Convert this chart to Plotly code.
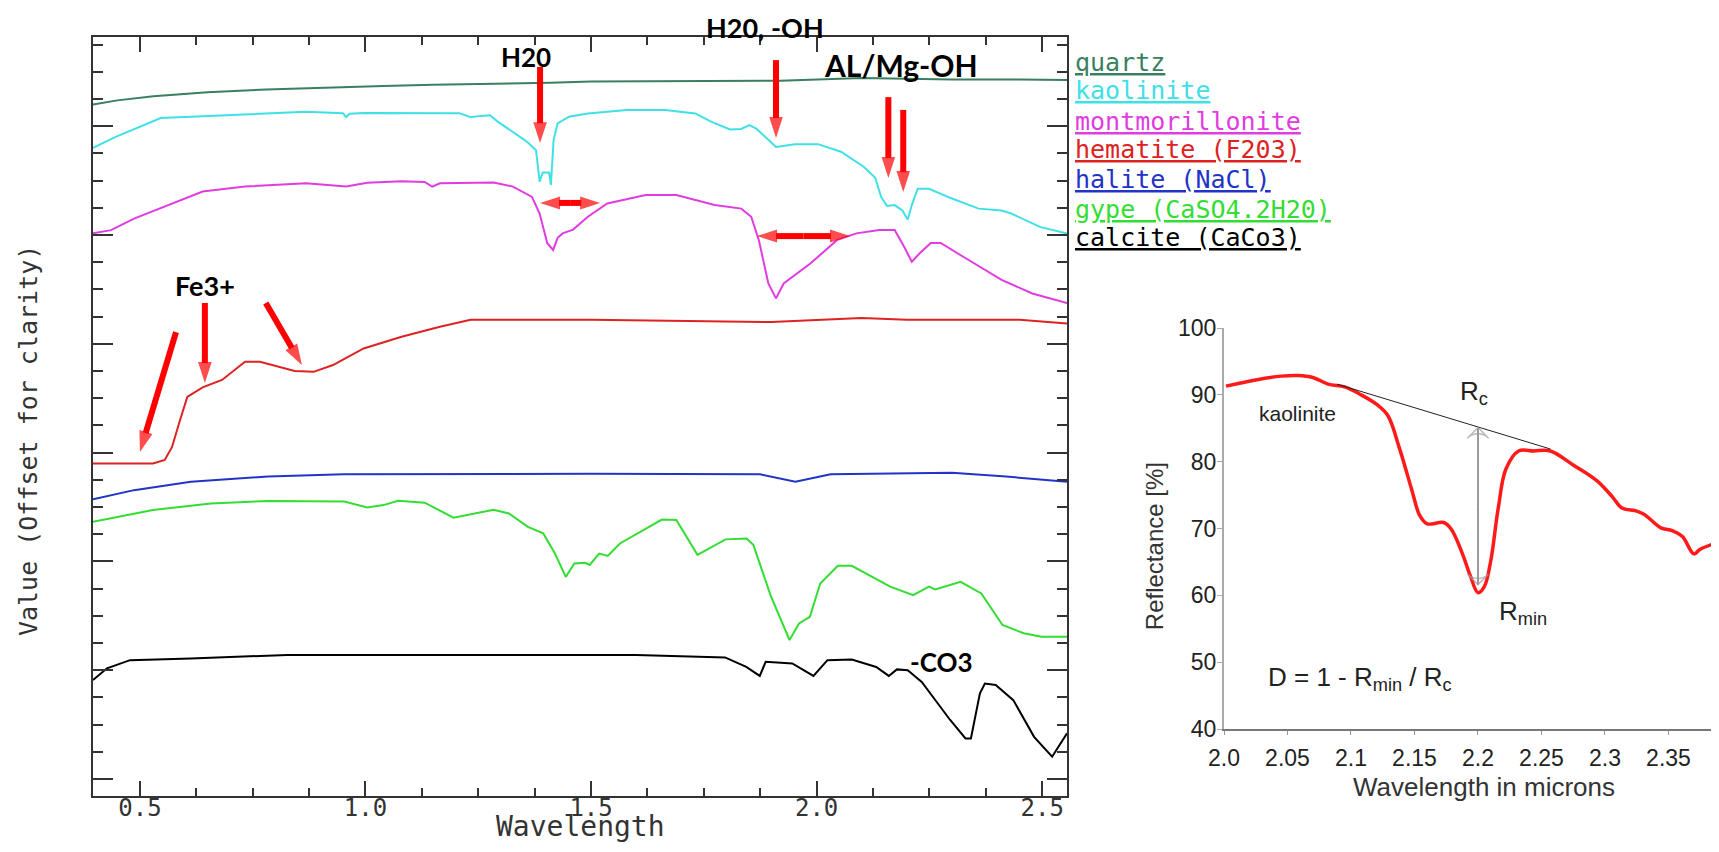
import plotly.graph_objects as go

# ---------------- left panel: offset spectra (y in offset "tick units") ----------------
quartz_wl = [0.396, 0.45, 0.53, 0.65, 0.78, 0.9, 1.04, 1.15, 1.29, 1.41, 1.5, 1.7, 1.92, 2.1, 2.3, 2.45, 2.555]
quartz_val = [24.8, 24.95, 25.1, 25.25, 25.35, 25.42, 25.48, 25.52, 25.55, 25.6, 25.64, 25.65, 25.67, 25.77, 25.72, 25.72, 25.7]

kaol_wl = [0.396, 0.445, 0.546, 0.7, 0.868, 0.95, 0.957, 0.965, 0.996, 1.208, 1.233, 1.255, 1.276, 1.293,
           1.327, 1.352, 1.36, 1.378, 1.386, 1.393, 1.407, 1.411, 1.417, 1.426, 1.451, 1.493, 1.579, 1.664,
           1.731, 1.766, 1.808, 1.833, 1.851, 1.867, 1.91, 1.952, 2.003, 2.054, 2.105, 2.13, 2.143, 2.156,
           2.173, 2.19, 2.202, 2.211, 2.224, 2.249, 2.3, 2.359, 2.41, 2.43, 2.495, 2.555]
kaol_val = [23.2, 23.6, 24.3, 24.4, 24.53, 24.48, 24.34, 24.46, 24.49, 24.48, 24.33, 24.38, 24.4, 24.17,
            23.8, 23.5, 23.4, 23.12, 21.96, 22.3, 22.3, 21.84, 23.5, 24.1, 24.35, 24.47, 24.6, 24.6,
            24.47, 24.17, 23.88, 23.9, 24.04, 23.9, 23.24, 23.34, 23.34, 23.06, 22.5, 22.1, 21.4, 21.07,
            21.1, 20.9, 20.57, 21.1, 21.7, 21.7, 21.34, 20.97, 20.9, 20.8, 20.3, 20.05]

mont_wl = [0.396, 0.436, 0.487, 0.555, 0.639, 0.733, 0.868, 0.957, 1.004, 1.08, 1.131, 1.148, 1.165, 1.284,
           1.327, 1.369, 1.386, 1.403, 1.416, 1.426, 1.437, 1.46, 1.493, 1.536, 1.621, 1.689, 1.774, 1.833,
           1.855, 1.872, 1.893, 1.91, 1.927, 1.986, 2.045, 2.088, 2.139, 2.173, 2.194, 2.211, 2.228, 2.253,
           2.275, 2.325, 2.41, 2.478, 2.555]
mont_val = [20.06, 20.18, 20.6, 21.04, 21.6, 21.78, 21.9, 21.78, 21.92, 21.98, 21.95, 21.78, 21.9, 21.93,
            21.78, 21.4, 20.79, 19.7, 19.45, 19.9, 20.06, 20.2, 20.67, 21.16, 21.47, 21.47, 21.1, 20.97,
            20.67, 19.81, 18.22, 17.67, 18.22, 18.95, 19.81, 20.06, 20.18, 20.18, 19.57, 19.02, 19.32, 19.71,
            19.71, 19.2, 18.35, 17.85, 17.5]

hem_wl = [0.396, 0.529, 0.555, 0.571, 0.589, 0.605, 0.639, 0.682, 0.733, 0.766, 0.843, 0.885, 0.928, 0.996,
          1.08, 1.165, 1.233, 1.5, 1.9, 2.1, 2.2, 2.45, 2.555]
hem_val = [11.6, 11.6, 11.73, 12.2, 13.2, 14.05, 14.4, 14.67, 15.34, 15.34, 15.0, 14.97, 15.22, 15.83,
           16.26, 16.63, 16.88, 16.88, 16.8, 16.95, 16.88, 16.88, 16.75]

hal_wl = [0.396, 0.487, 0.613, 0.784, 0.952, 1.5, 1.875, 1.953, 2.031, 2.3, 2.42, 2.555]
hal_val = [10.28, 10.62, 10.93, 11.12, 11.2, 11.22, 11.2, 10.93, 11.2, 11.26, 11.12, 10.93]

gyp_wl = [0.396, 0.529, 0.657, 0.784, 0.953, 1.004, 1.04, 1.072, 1.131, 1.157, 1.195, 1.284, 1.318, 1.36,
          1.394, 1.42, 1.444, 1.463, 1.487, 1.497, 1.518, 1.537, 1.564, 1.657, 1.689, 1.736, 1.798, 1.845,
          1.86, 1.899, 1.94, 1.961, 1.985, 2.008, 2.047, 2.078, 2.163, 2.214, 2.249, 2.263, 2.319, 2.365,
          2.412, 2.459, 2.498, 2.555]
gyp_val = [9.46, 9.89, 10.13, 10.22, 10.2, 9.98, 10.07, 10.23, 10.16, 9.94, 9.61, 9.9, 9.76, 9.27,
           9.03, 8.29, 7.43, 7.92, 7.95, 7.87, 8.29, 8.2, 8.66, 9.54, 9.52, 8.24, 8.81, 8.84,
           8.6, 6.7, 5.11, 5.72, 5.96, 7.19, 7.84, 7.84, 7.07, 6.76, 7.07, 6.97, 7.25, 6.82,
           5.66, 5.36, 5.23, 5.23]

cal_wl = [0.396, 0.427, 0.478, 0.613, 0.826, 1.2, 1.6, 1.797, 1.844, 1.874, 1.887, 1.946, 1.993, 2.024,
          2.078, 2.132, 2.16, 2.178, 2.202, 2.233, 2.264, 2.296, 2.33, 2.342, 2.362, 2.373, 2.397, 2.436,
          2.482, 2.522, 2.555]
cal_val = [3.64, 4.07, 4.37, 4.43, 4.56, 4.56, 4.56, 4.47, 4.12, 3.79, 4.31, 4.25, 3.79, 4.37,
           4.39, 4.12, 3.79, 4.03, 4.0, 3.57, 2.9, 2.17, 1.49, 1.49, 3.15, 3.51, 3.46, 2.9,
           1.55, 0.82, 1.68]

legend_names = ["quartz", "kaolinite", "montmorillonite", "hematite (F203)", "halite (NaCl)",
                "gype (CaSO4.2H20)", "calcite (CaCo3)"]
left_xticks = [0.5, 1.0, 1.5, 2.0, 2.5]

# red arrows on the left panel: (tip_x, tip_y, tail_x, tail_y)
single_arrows = [
    (1.387, 23.38, 1.387, 26.18),
    (1.910, 23.57, 1.910, 26.43),
    (2.159, 22.10, 2.159, 25.07),
    (2.192, 21.58, 2.192, 24.60),
    (0.500, 12.02, 0.580, 16.43),
    (0.644, 14.56, 0.644, 17.50),
    (0.859, 15.22, 0.779, 17.50),
]
# double-headed arrows: (x_left, x_right, y)
double_arrows = [(1.387, 1.520, 21.18), (1.868, 2.074, 19.96)]

# ---------------- right panel: kaolinite band depth ----------------
k_wl = [2.0016, 2.026, 2.045, 2.058, 2.07, 2.082, 2.095, 2.107, 2.12, 2.129, 2.138, 2.148, 2.154, 2.16,
        2.173, 2.179, 2.188, 2.194, 2.2, 2.205, 2.21, 2.216, 2.222, 2.232, 2.244, 2.257, 2.275, 2.294,
        2.306, 2.313, 2.325, 2.331, 2.344, 2.353, 2.361, 2.37, 2.375, 2.387]
k_refl = [91.3, 92.27, 92.8, 92.9, 92.6, 91.6, 91.2, 90.1, 88.6, 86.9, 82.1, 75.7, 72.0, 70.7,
          70.9, 69.9, 66.1, 62.9, 60.4, 61.3, 65.1, 73.1, 78.9, 81.6, 81.6, 81.6, 79.5, 77.1,
          74.7, 73.1, 72.6, 72.1, 70.1, 69.7, 68.8, 66.2, 66.9, 67.8]
cont_wl = [2.089, 2.257]
cont_refl = [91.6, 81.9]
depth_wl = 2.2
depth_top, depth_bottom = 85.1, 61.6
right_xticks = [2.0, 2.05, 2.1, 2.15, 2.2, 2.25, 2.3, 2.35]
right_xlabels = ["2.0", "2.05", "2.1", "2.15", "2.2", "2.25", "2.3", "2.35"]

# ---------------- page geometry (browser body margin of 8 px) ----------------
OFF = 8
FW, FH = 1719 - 2 * OFF, 852 - 2 * OFF


def dom_x(a, b):
    return [(a - OFF) / FW, (b - OFF) / FW]


def dom_y(top, bottom):
    return [1 - (bottom - OFF) / FH, 1 - (top - OFF) / FH]


MONO = "DejaVu Sans Mono"
ARIAL = "Liberation Sans"
BOLD = "Lato"
RED = "#ff0000"

colors = ["#3a7f5f", "#3fe0e6", "#e03ce0", "#dd2222", "#2233c8", "#33dd33", "#000000"]
series = [(quartz_wl, quartz_val), (kaol_wl, kaol_val), (mont_wl, mont_val), (hem_wl, hem_val),
          (hal_wl, hal_val), (gyp_wl, gyp_val), (cal_wl, cal_val)]

fig = go.Figure()
for (xs, ys), name, c in zip(series, legend_names, colors):
    fig.add_trace(go.Scatter(x=xs, y=ys, mode="lines", name=name, showlegend=False, hoverinfo="skip",
                             line=dict(color=c, width=2), xaxis="x", yaxis="y"))


def add_arrow(x0, y0, x1, y1, xa="x", ya="y", color=RED, width=6, size=22, symbol="arrow",
              head_line="#444"):
    """Line from tail (x0,y0) to tip (x1,y1) with a head marker at the tip."""
    fig.add_trace(go.Scatter(
        x=[x0, x1], y=[y0, y1], mode="lines+markers", showlegend=False, hoverinfo="skip",
        line=dict(color=color, width=width), xaxis=xa, yaxis=ya,
        marker=dict(symbol=["circle", symbol], size=[0, size], angleref="previous",
                    color=color, line=dict(width=0 if symbol == "arrow" else 1.5, color=head_line))))


for tx, ty, sx, sy in single_arrows:
    add_arrow(sx, sy, tx, ty)
for xl, xr, yy in double_arrows:
    xm = (xl + xr) / 2
    add_arrow(xm, yy, xl, yy, size=21)
    add_arrow(xm, yy, xr, yy, size=21)

fig.add_trace(go.Scatter(x=k_wl, y=k_refl, mode="lines", name="kaolinite", showlegend=False, hoverinfo="skip",
                         line=dict(color="#ff1a1a", width=3.5, shape="spline"), xaxis="x2", yaxis="y2"))
fig.add_trace(go.Scatter(x=cont_wl, y=cont_refl, mode="lines", name="continuum", showlegend=False,
                         hoverinfo="skip", line=dict(color="#222222", width=1), xaxis="x2", yaxis="y2"))
depth_mid = (depth_top + depth_bottom) / 2
for end in (depth_top, depth_bottom):
    add_arrow(depth_wl, depth_mid, depth_wl, end, "x2", "y2", color="#9a9a9a", width=2, size=15,
              symbol="arrow-wide-open", head_line="#333")

annotations = []

# legend-like underlined labels to the right of the left panel (x/y in axis-domain fractions)
legend_y = [0.967, 0.9289, 0.8893, 0.8524, 0.8129, 0.7721, 0.7352]
for name, c, yy in zip(legend_names, colors, legend_y):
    annotations.append(dict(x=1.006, y=yy, xref="x domain", yref="y domain", text="<u>%s</u>" % name,
                            showarrow=False, xanchor="left", yanchor="middle",
                            font=dict(family=MONO, size=25, color=c)))

# bold labels inside the left panel
for txt, xx, yy, fs in [("H20", 1.356, 26.54, 26), ("AL/Mg-OH", 2.186, 26.25, 30),
                        ("Fe3+", 0.644, 18.16, 27), ("-CO3", 2.276, 4.30, 26)]:
    annotations.append(dict(x=xx, y=yy, xref="x", yref="y", text="<b>%s</b>" % txt, showarrow=False,
                            xanchor="center", yanchor="middle",
                            font=dict(family=BOLD, size=fs, color="#000000")))
annotations.append(dict(x=1.886, y=1.0375, xref="x", yref="y domain", text="<b>H20, -OH</b>",
                        showarrow=False, xanchor="center", yanchor="top",
                        font=dict(family=BOLD, size=27, color="#000000")))
# left axis titles
annotations.append(dict(x=0.5, y=-0.0645, xref="x domain", yref="y domain", text="Wavelength",
                        showarrow=False, xanchor="center", yanchor="bottom",
                        font=dict(family=MONO, size=28, color="#333")))
annotations.append(dict(x=-0.0667, y=0.4677, xref="x domain", yref="y domain",
                        text="Value (Offset for clarity)", textangle=-90,
                        showarrow=False, xanchor="center", yanchor="middle",
                        font=dict(family=MONO, size=25, color="#333")))

# right panel texts
annotations += [
    dict(x=2.058, y=87.2, xref="x2", yref="y2", text="kaolinite", showarrow=False,
         font=dict(family=ARIAL, size=21, color="#222")),
    dict(x=2.197, y=90.3, xref="x2", yref="y2", text="R<sub>c</sub>", showarrow=False,
         font=dict(family=ARIAL, size=26, color="#222")),
    dict(x=2.215, y=57.4, xref="x2", yref="y2", text="R<sub>min</sub>", showarrow=False, xanchor="left",
         font=dict(family=ARIAL, size=26, color="#222")),
    dict(x=2.033, y=47.6, xref="x2", yref="y2", text="D = 1 - R<sub>min</sub> / R<sub>c</sub>",
         showarrow=False, xanchor="left", font=dict(family=ARIAL, size=26, color="#222")),
    dict(x=0.534, y=-0.145, xref="x2 domain", yref="y2 domain", text="Wavelength in microns",
         showarrow=False, xanchor="center", yanchor="middle",
         font=dict(family=ARIAL, size=26, color="#333")),
    dict(x=-0.1437, y=0.456, xref="x2 domain", yref="y2 domain", text="Reflectance [%]", textangle=-90,
         showarrow=False, xanchor="center", yanchor="middle",
         font=dict(family=ARIAL, size=24, color="#333")),
]

fig.update_layout(
    template="none",
    width=FW, height=FH, margin=dict(l=0, r=0, t=0, b=0, pad=0),
    paper_bgcolor="white", plot_bgcolor="white", showlegend=False, hovermode=False,
    xaxis=dict(domain=dom_x(93, 1067), range=[0.396, 2.555], anchor="y", automargin=False,
               showline=True, linecolor="#333", linewidth=2, mirror="ticks",
               ticks="inside", ticklen=15, tickwidth=2, tickcolor="#333",
               tickvals=left_xticks, tickformat=".1f", ticklabelstandoff=-11,
               tickfont=dict(family=MONO, size=24, color="#333"),
               minor=dict(ticks="inside", ticklen=8, dtick=0.125, tick0=0.5, tickwidth=2, tickcolor="#333"),
               showgrid=False, zeroline=False),
    yaxis=dict(domain=dom_y(37, 796), range=[-0.625, 27.28], anchor="x", automargin=False,
               showline=True, linecolor="#333", linewidth=2, mirror="ticks",
               ticks="inside", ticklen=20, tickwidth=2, tickcolor="#333", dtick=4, tick0=0,
               showticklabels=False,
               minor=dict(ticks="inside", ticklen=10, dtick=1, tick0=0, tickwidth=2, tickcolor="#333"),
               showgrid=False, zeroline=False),
    xaxis2=dict(domain=dom_x(1224, 1711), range=[2.0, 2.3835], anchor="y2", automargin=False,
                showline=True, linecolor="#777", linewidth=2, ticks="outside", ticklen=4, tickcolor="#999",
                tickvals=right_xticks, ticktext=right_xlabels, ticklabelstandoff=3,
                tickfont=dict(family=ARIAL, size=23, color="#222"),
                showgrid=False, zeroline=False),
    yaxis2=dict(domain=dom_y(328, 729), range=[40, 100], anchor="x2", automargin=False,
                showline=True, linecolor="#aaa", linewidth=2, ticks="outside", ticklen=5, tickcolor="#aaa",
                dtick=10, tick0=40, ticklabelstandoff=-4, tickfont=dict(family=ARIAL, size=23, color="#222"),
                showgrid=False, zeroline=False),
    annotations=annotations,
)

fig.write_html("out.html")
